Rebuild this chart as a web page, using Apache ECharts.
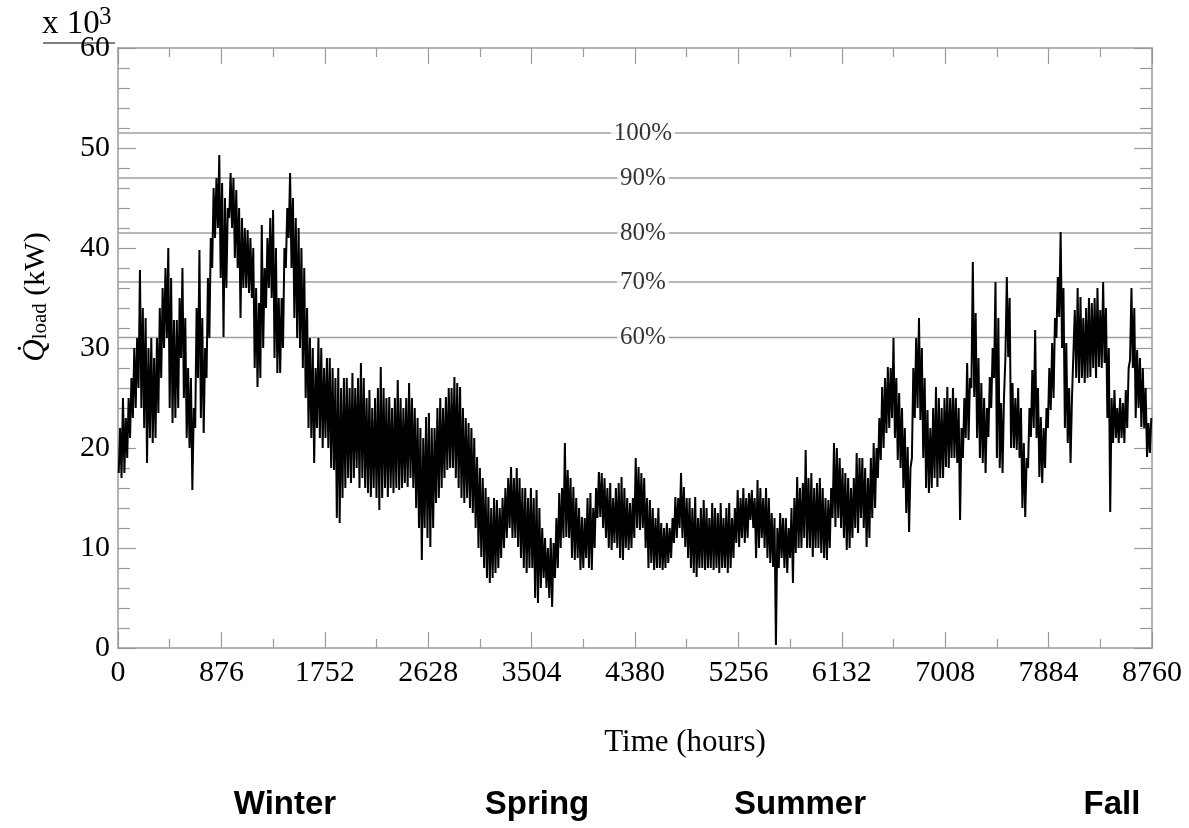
<!DOCTYPE html>
<html>
<head>
<meta charset="utf-8">
<script src="https://cdn.jsdelivr.net/npm/echarts@6/dist/echarts.min.js"></script>
<style>
  html, body { margin: 0; padding: 0; background: #fff; }
  #chart { width: 1189px; height: 828px; }
</style>
</head>
<body>
<div id="chart"></div>
<script>
// Hourly building load over one year, summarised as each day's low and high (x 10^3 kW)
const dailyHigh = [
  22,25,23,25,27,30,31,37.8,34,33,
  30,31,29,31,34,36,38,40,37,32.8,
  32.8,35,38,33,28,27,24,34,39.8,33,
  30,37,41,46,47,49.3,46.5,45,44,47.5,
  47,45.8,44,43,42,41.8,41,40,36,34.5,
  42.3,38,41,43,43.8,40,35,35,40,44,
  47.5,45,43,42,40,38,34,31,30,28,
  31,30,28,29,
  29,28,27,28,26,27,27,26,27.5,26,
  27,28.5,27,25,25.8,24,25,26,28.1,26,
  25,25.1,24,25,26.8,25,24,25,26.5,25,
  24,23,22,21,23.1,23.5,22,22,24,25,
  24,25.1,26,26,27.1,26.5,26.1,24,23,22.5,
  22,21,19.1,18,17,16,15.1,14,15,14.8,
  14,15,16,17,18.1,17,18,17,16,16,
  15,16,15,
  15.8,14,12,11,10,11,10.5,13,15.5,16,
  20.5,17.8,17,16.1,15,14,13.1,13,15,15.5,
  14,16,17.6,17.5,17,16,16.5,15,16,16.5,
  17.1,16,15,14.5,15,19,18.1,17.5,17,15,
  14.8,14,13,14,12.5,12,12.5,12,13,15.1,
  15,17.5,16.1,15,15,14,15.1,13,14,14.8,
  14,13,14.5,14,13.5,14.5,13,14,14.5,13,
  14,15.8,15,16,15,15.5,
  15.8,15,16.8,16,15,16,15,13.5,13,12,
  13.5,13,13,12,14,15,17.1,16,16.5,19.8,
  17,17.5,16,16.5,17,16,15,14.8,16,20.5,
  20,19,18,17.5,17,16,17,19.5,19,19,
  18,17,19,20.5,20,23,26.1,27,28.1,28,
  31,27,25.5,24,22,20.1,18,28,31,33,
  30,27,23.8,22,24,26.1,25,24,25,26.1,
  25,26,25,24,
  22,25,28.5,27,38.6,33.5,29,26.5,25,24,
  27.1,30,36.6,33,24.5,25,37.1,35,26.5,25,
  26,24,20.5,19,24,27.8,31.8,26,23.1,22,
  24,28,30.5,33,37.1,41.6,36,30.5,26,25,
  33.8,36,35.1,33,34,35,34.5,35,36,33.8,
  36.6,34,30,25,25.8,24,25,24.5,25.8,28,
  36,34,29.8,29,28,26,22.5,23
];
const dailyLow = [
  17.5,17,17.5,19,21,23,24,26,24,22,
  18.5,21,20.5,21,23.5,27,30,31,24,22.5,
  23,24,29,25,21,20,15.8,22,27,23,
  21.5,27,31,38,41,42,37,31.1,36,43,
  42,39,38,33,36,36,35.5,35,28,26.1,
  27,30,34,36,35,29,27.5,27.5,30,38,
  41,38,33,31,30,28,25,22,21,18.5,
  22,21,20,21,
  20,18,17.8,13,12.5,15,16,17,16.5,17,
  18,16,17,16,15.5,15.1,16,15,13.8,15,
  16,15.1,16,15.5,16,15.8,16,16.5,16.1,17,
  16,14,12,8.8,12,11,10.1,12,14.5,15,
  16,17,17.8,18,18,17,16,15,14.5,15,
  14,13.5,12,10,9.1,8,7,6.5,7,7.5,
  8,9,10,11,12,11,11,10.1,9,8,
  7.5,8,8,
  5,4.5,6,7,6,5,4.1,7,8,10,
  11,11.1,11,9,8.8,9,7.8,8,9,8,
  7.8,10,13,13.1,12,11,10,9.8,10.5,10,
  9,8.8,10,9.8,10,11,12,11.8,12,10,
  8,8.5,7.8,8,8,7.8,8,8.5,9,10.5,
  11,12,11,10.1,9,8,7.5,7.1,8,8,
  7.8,8,8,7.8,8,7.5,8,8,7.5,8,
  9,10.5,10.1,11,10.5,11,
  12.8,12,9,10,11,10,9,8.5,8.1,0.3,
  8,9,8,7.5,9,6.5,9.5,10,10,11,
  10,10,9.1,10,10,9.5,9,8.8,10,13,
  12.1,13,12,11,9.8,10,11,12,11.5,13,
  12,10.1,11,13,14,17,18.8,20,21.5,22,
  23,21,18.8,18,16,13.5,11.6,19,23,24,
  22.8,19,16,15.5,16,17,16.1,17,17,18.1,
  18,19,19,18.5,
  12.8,19,21,20.8,26,25.1,21,19,18.5,17.5,
  21.1,24,27,19,18,17.5,29,29.1,20,20,
  19.8,19,14,13.1,18,21.1,22,21,17.1,16.5,
  18,22,23.8,25,31,33.1,30,22,20.5,18.5,
  25.1,27,26.5,27,26.5,27,27.1,28,27,28.1,
  28,28.5,23,13.6,20.5,21,20.5,21,20.5,22,
  28.8,28,23,24,22.1,22,19.1,19.5
];

// Capacity levels of the plant, as fractions of the design load
const refLevels = [51.5, 47.0, 41.5, 36.6, 31.05];
const refLabels = ['100%', '90%', '80%', '70%', '60%'];

const seasons = ['Winter', 'Spring', 'Summer', 'Fall'];

const HOURS_PER_DAY = 24;
const YEAR_HOURS = 8760;
const TICK_STEP = 876;
const LABEL_HOUR = 4448;

// Trace: each day contributes its low and its high, which draws the daily swing
const loadSeries = [];
dailyHigh.forEach((hi, d) => {
  loadSeries.push([d * HOURS_PER_DAY + 6, dailyLow[d]]);
  loadSeries.push([d * HOURS_PER_DAY + 18, hi]);
});

const serif = 'Liberation Serif, Times New Roman, serif';
const axisGray = '#9a9a9a';

function xAxisCfg(pos, showLabel) {
  return {
    type: 'value', position: pos, min: 0, max: YEAR_HOURS, interval: TICK_STEP,
    axisLine: { show: true, onZero: false, lineStyle: { color: axisGray, width: 1.5 } },
    axisTick: { show: true, inside: true, length: 16, lineStyle: { color: axisGray, width: 1.2 } },
    minorTick: { show: true, splitNumber: 2, length: 9, lineStyle: { color: axisGray, width: 1.2 } },
    splitLine: { show: false },
    axisLabel: { show: showLabel, color: '#000', fontFamily: serif, fontSize: 30, margin: 10,
                 formatter: v => String(v) }
  };
}
function yAxisCfg(pos, showLabel) {
  return {
    type: 'value', position: pos, min: 0, max: 60, interval: 10,
    axisLine: { show: true, onZero: false, lineStyle: { color: axisGray, width: 1.5 } },
    axisTick: { show: true, inside: true, length: 18, lineStyle: { color: axisGray, width: 1.2 } },
    minorTick: { show: true, splitNumber: 5, length: 12, lineStyle: { color: axisGray, width: 1.2 } },
    splitLine: { show: false },
    axisLabel: { show: showLabel, color: '#000', fontFamily: serif, fontSize: 30, margin: 8,
                 formatter: v => String(v) }
  };
}

const series = [];
refLevels.forEach((lv, i) => {
  series.push({
    type: 'line', name: refLabels[i], data: [[0, lv], [YEAR_HOURS, lv]],
    showSymbol: false, silent: true, z: 1,
    lineStyle: { color: '#a0a0a0', width: 1.3 }
  });
});
series.push({
  type: 'line', name: 'load', data: loadSeries, showSymbol: false, z: 2,
  lineStyle: { color: '#000', width: 2 }, silent: true
});
series.push({
  type: 'scatter', name: 'levels', symbolSize: 0, z: 3, silent: true,
  data: refLevels.map((lv, i) => ({ value: [LABEL_HOUR, lv], name: refLabels[i] })),
  label: {
    show: true, position: 'inside', formatter: p => p.name,
    color: '#000', fontFamily: serif, fontSize: 25,
    backgroundColor: '#fff', padding: [0, 3]
  }
});

const seasonX = [285, 537, 800, 1112];

const chart = echarts.init(document.getElementById('chart'), null, { renderer: 'canvas' });
chart.setOption({
  animation: false,
  backgroundColor: '#fff',
  grid: { left: 118, right: 37, top: 48, bottom: 180 },
  xAxis: [xAxisCfg('bottom', true), xAxisCfg('top', false)],
  yAxis: [yAxisCfg('left', true), yAxisCfg('right', false)],
  series: series,
  graphic: [
    { type: 'text', x: 42, y: 24, style: { text: 'x 10', font: '33px ' + serif, fill: '#000',
      align: 'left', verticalAlign: 'middle' } },
    { type: 'text', x: 99, y: 17, style: { text: '3', font: '25px ' + serif, fill: '#000',
      align: 'left', verticalAlign: 'middle' } },
    { type: 'line', shape: { x1: 43, y1: 43, x2: 115, y2: 43 }, style: { stroke: '#555', lineWidth: 1.5 } },
    { type: 'text', x: 34, y: 297, rotation: Math.PI / 2,
      style: {
        text: '{q|Q\u0307}{s|load}{t| (kW)}', align: 'center', verticalAlign: 'middle', fill: '#000',
        rich: {
          q: { fontFamily: serif, fontStyle: 'italic', fontSize: 31, lineHeight: 34, verticalAlign: 'bottom' },
          s: { fontFamily: serif, fontSize: 21, lineHeight: 20, verticalAlign: 'bottom' },
          t: { fontFamily: serif, fontSize: 30, lineHeight: 34, verticalAlign: 'bottom' }
        }
      } },
    { type: 'text', x: 685, y: 743, style: { text: 'Time (hours)', font: '31px ' + serif, fill: '#000',
      align: 'center', verticalAlign: 'middle' } },
    ...seasons.map((s, i) => ({
      type: 'text', x: seasonX[i], y: 805,
      style: { text: s, font: 'bold 33px Liberation Sans, Arial, sans-serif', fill: '#000',
               align: 'center', verticalAlign: 'middle' }
    }))
  ]
});
</script>
</body>
</html>
